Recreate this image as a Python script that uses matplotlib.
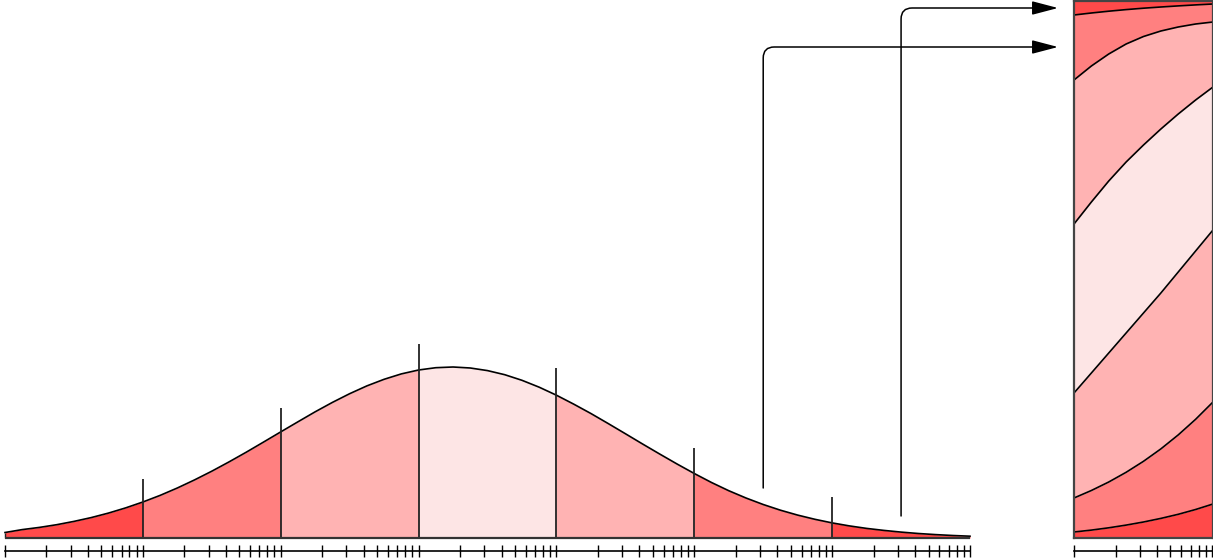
import numpy as np
import matplotlib
matplotlib.use("Agg")
import matplotlib.pyplot as plt
from matplotlib.ticker import LogLocator, NullFormatter

# ---- data ----
# left density curve: heights sampled every 0.125 band-widths (7 bands)
curve_u = [i * 0.125 for i in range(57)]
curve_h = [5.5, 8.4, 10.6, 13.3, 16.6, 20.4, 24.9, 30.1, 36.0, 42.6, 50.0, 58.1,
           66.8, 76.1, 85.8, 95.9, 106.1, 116.2, 126.2, 135.6, 144.3, 152.1, 158.7,
           164.1, 168.0, 170.3, 171.0, 170.0, 167.4, 163.3, 157.7, 150.8, 142.8,
           133.9, 124.5, 114.5, 104.3, 94.0, 83.9, 74.0, 64.5, 55.5, 47.3, 40.0,
           33.5, 27.8, 22.9, 18.7, 15.1, 12.1, 9.6, 7.6, 5.9, 4.5, 3.4, 2.5, 1.8]
band_edges = [0, 1, 2, 3, 4, 5, 6, 7]
band_colors = ["#ff4a4a", "#ff8080", "#ffb3b3", "#fde5e5", "#ffb3b3", "#ff8080", "#ff4a4a"]
marker_u = [1, 2, 3, 4, 5, 6]
marker_top = [59, 130, 194, 170, 90, 41]
arrow_start_u = [5.5, 6.5]
arrow_start_h = [50, 22]
arrow_target_h = [491, 530]

# right panel: stacked band boundaries (heights out of 537) across the panel
panel_t = [0, 0.125, 0.25, 0.375, 0.5, 0.625, 0.75, 0.875, 1.0]
bound_F = [6, 7.9, 10.2, 12.9, 16.0, 19.6, 23.7, 28.5, 34]
bound_E = [40, 47.5, 56, 65.7, 76.7, 89.1, 103.1, 118.7, 136]
bound_D = [145, 165, 185, 205, 225, 245, 266, 287, 308]
bound_C = [314, 336, 357, 376, 393, 409, 424, 438, 451]
bound_B = [458, 472, 484, 494, 501.5, 507, 511, 514, 516]
bound_A = [523, 525, 526.8, 528.4, 529.8, 531, 532.1, 533.1, 534]
panel_total = 537

W, H = 1213, 560
fig = plt.figure(figsize=(W / 100, H / 100), dpi=100)

def rect(x0, y0, x1, y1):
    return [x0 / W, 1 - y1 / H, (x1 - x0) / W, (y1 - y0) / H]

# ---- left panel ----
axl = fig.add_axes(rect(5, 0, 970, 538))
axl.set_xlim(0, 7)
axl.set_ylim(0, 538)
axl.axis("off")
u = np.array(curve_u)
h = np.array(curve_h)
for i in range(7):
    m = (u >= band_edges[i] - 1e-9) & (u <= band_edges[i + 1] + 1e-9)
    axl.fill_between(u[m], 0, h[m], color=band_colors[i], lw=0, clip_on=False)
axl.plot(u, h, color="black", lw=1.2, clip_on=False, solid_joinstyle="round")
axl.vlines(marker_u, 0, marker_top, color="#222222", lw=1.3)
axl.vlines([0], 0, [curve_h[0]], color="#222222", lw=1.0, clip_on=False)
axl.hlines(0, 0, 7, color="#333333", lw=1.6, clip_on=False)

# ---- right panel ----
axr = fig.add_axes(rect(1074, 1, 1213, 538))
axr.set_xlim(0, 1)
axr.set_ylim(0, panel_total)
t = np.array(panel_t)
layers = [np.zeros_like(t), np.array(bound_F), np.array(bound_E), np.array(bound_D),
          np.array(bound_C), np.array(bound_B), np.array(bound_A),
          np.full_like(t, panel_total, dtype=float)]
for i in range(7):
    axr.fill_between(t, layers[i], layers[i + 1], color=band_colors[i], lw=0)
for b in layers[1:-1]:
    axr.plot(t, b, color="black", lw=1.2, solid_joinstyle="round")
axr.set_xticks([])
axr.set_yticks([])
for s in axr.spines.values():
    s.set_color("#444444")
    s.set_linewidth(1.6)

# ---- log tick axes ----
def tick_axis(x0, x1, decades):
    ax = fig.add_axes(rect(x0, 551, x1, 551.01))
    ax.set_xscale("log")
    ax.set_xlim(1, 10 ** decades)
    ax.set_yticks([])
    for k in ["left", "right", "top"]:
        ax.spines[k].set_visible(False)
    ax.spines["bottom"].set_linewidth(1.2)
    ax.patch.set_visible(False)
    ax.xaxis.set_major_locator(LogLocator(base=10, numticks=100))
    ax.xaxis.set_minor_locator(LogLocator(base=10, subs=np.arange(2, 10), numticks=100))
    ax.xaxis.set_major_formatter(NullFormatter())
    ax.xaxis.set_minor_formatter(NullFormatter())
    ax.tick_params(which="both", direction="inout", length=9, width=1.0, color="black")
    return ax

tick_axis(5, 970, 7)
tick_axis(1074, 1212, 1)

# ---- arrows ----
for su, sh, th in zip(arrow_start_u, arrow_start_h, arrow_target_h):
    axl.annotate("", xy=(0, th), xycoords=axr.transData,
                 xytext=(su, sh), textcoords="data",
                 arrowprops=dict(arrowstyle="-|>,head_length=1.6,head_width=0.42",
                                 connectionstyle="angle,angleA=90,angleB=0,rad=11",
                                 shrinkA=0, shrinkB=11.5, lw=1.1, color="black"),
                 annotation_clip=False)

fig.savefig("out.png", dpi=100)
